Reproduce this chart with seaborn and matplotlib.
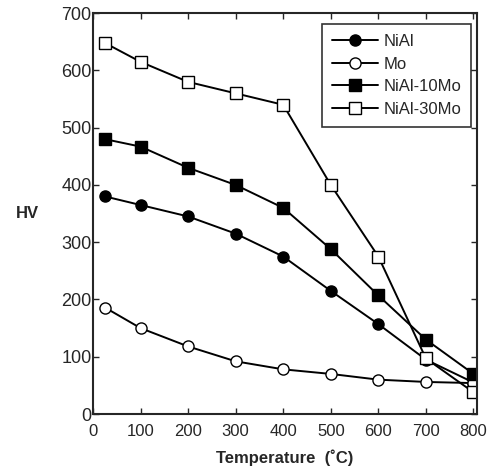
import numpy as np
import pandas as pd
import matplotlib
matplotlib.use("Agg")
import matplotlib.pyplot as plt
import seaborn as sns

temps = [25, 100, 200, 300, 400, 500, 600, 700, 800]
nial = [380, 365, 345, 315, 275, 215, 157, 95, 55]
mo = [186, 150, 118, 92, 78, 70, 60, 56, 54]
nial10 = [480, 467, 430, 400, 360, 288, 207, 130, 70]
nial30 = [648, 615, 580, 560, 540, 400, 275, 97, 38]

series = ["NiAl", "Mo", "NiAl-10Mo", "NiAl-30Mo"]
values = [nial, mo, nial10, nial30]
markers = ["o", "o", "s", "s"]
faces = ["black", "white", "black", "white"]

sns.set_style("ticks")
plt.rcParams["font.family"] = ["Liberation Sans", "DejaVu Sans"]

fig = plt.figure(figsize=(4.87, 4.71), dpi=100)
ax = fig.add_axes([0.191, 0.121, 0.789, 0.851])

for name, vals, m, fc in zip(series, values, markers, faces):
    sns.lineplot(x=temps, y=vals, ax=ax, color="black", lw=1.4,
                 marker=m, markersize=8, markerfacecolor=fc,
                 markeredgecolor="black", markeredgewidth=1.0, label=name)

ax.set_xlim(0, 808)
ax.set_ylim(0, 700)
ax.set_xticks(range(0, 801, 100))
ax.set_yticks(range(0, 701, 100))
ax.tick_params(direction="in", top=True, right=True, length=4, width=1)
ax.tick_params(axis="x", labelsize=12, pad=7)
ax.tick_params(axis="y", labelsize=13, pad=1)
for s in ax.spines.values():
    s.set_linewidth(1.5)
    s.set_visible(True)

ax.set_xlabel("Temperature  (˚C)", fontsize=12, fontweight="bold", labelpad=8)
ax.set_ylabel("HV", fontsize=12, fontweight="bold", rotation=0, labelpad=24,
              va="center")

leg = ax.legend(loc="upper right", fontsize=12, frameon=True, fancybox=False,
                edgecolor="black", handlelength=2.8, borderpad=0.6,
                labelspacing=0.45, handletextpad=0.3, borderaxespad=0,
                bbox_to_anchor=(0.984, 0.973))
leg.get_frame().set_linewidth(1.2)

fig.savefig("out.png", dpi=100)
